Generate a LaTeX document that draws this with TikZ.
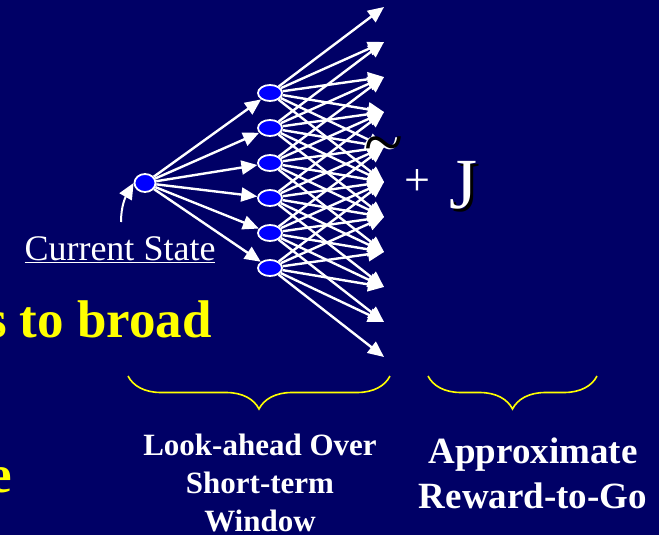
\documentclass[tikz,border=0pt]{standalone}
\usepackage{fontspec}
\setmainfont{Liberation Serif}
\usetikzlibrary{arrows.meta, shapes.geometric, decorations.pathreplacing}
\definecolor{slidebg}{HTML}{000066}
\definecolor{stateblue}{HTML}{0000FF}
\definecolor{slideyellow}{HTML}{FFFF00}
\tikzset{state/.style={ellipse,draw=white,fill=stateblue,line width=1.8pt,minimum width=24pt,minimum height=16pt,inner sep=0pt},edge/.style={-{Triangle[length=16pt,width=14pt]},draw=white,line width=2.4pt},brace/.style={draw=slideyellow,line width=1.6pt,decorate,decoration={brace,mirror,amplitude=33pt}},caption/.style={text=white,align=center,inner sep=0pt},glyph/.style={inner sep=0pt,anchor=base west}}

\begin{document}
\begin{tikzpicture}[x=1pt,y=-1pt]
\useasboundingbox (0,0) rectangle (659,535);
\clip (0,0) rectangle (659,535);
\fill[slidebg] (0,0) rectangle (659,535);
% look-ahead tree
\node[state,minimum width=21pt,minimum height=18pt] (root) at (145,183) {};
\foreach \i in {0,...,5}
  \node[state] (m\i) at (270,{93+35*\i}) {};
\foreach \k in {0,...,10}
  \coordinate (leaf\k) at (384,{7+35*\k});
\foreach \i in {0,...,5}
  \draw[edge] (root) -- (m\i);
\foreach \i in {0,...,5}
  \foreach \d in {0,...,5}
    {\pgfmathtruncatemacro\k{\i+\d}
     \draw[edge] (m\i) -- (leaf\k);}
% current state
\node[text=white,font=\fontsize{36}{40}\selectfont,anchor=base,inner sep=0pt] (cstate) at (120,260) {\underline{Current State}};
\coordinate (csfoot) at (121,222);
\draw[edge,line width=2pt] (csfoot) to[out=90,in=240] (root.west);
% yellow slide text
\node[text=slideyellow,font=\fontsize{53}{60}\selectfont\bfseries,anchor=base east,inner sep=0pt] (broad) at (212,337) {s to broad};
\node[text=slideyellow,font=\fontsize{53}{60}\selectfont\bfseries,anchor=base east,inner sep=0pt] (tail) at (12,492) {e};
% J with tilde
\node[glyph,text=white,font=\fontsize{72}{72}\selectfont] (tildeshadow) at (362,167) {\textasciitilde};
\node[glyph,text=black,font=\fontsize{72}{72}\selectfont] (tilde) at (364,166) {\textasciitilde};
\node[glyph,text=white,font=\fontsize{46}{46}\selectfont] (plus) at (404,195) {+};
\node[glyph,text=black,font=\fontsize{72}{72}\selectfont] (jshadow) at (452,211) {J};
\node[glyph,text=white,font=\fontsize{72}{72}\selectfont] (jval) at (449,208) {J};
% braces and captions
\coordinate (b1w) at (128,376);
\coordinate (b1e) at (390,376);
\coordinate (b2w) at (428,376);
\coordinate (b2e) at (597,376);
\draw[brace] (b1w) -- (b1e);
\draw[brace] (b2w) -- (b2e);
\node[caption,font=\fontsize{31}{38}\selectfont\bfseries,anchor=base] (window) at (260,531) {Look-ahead Over\\Short-term\\Window};
\node[caption,font=\fontsize{37}{45}\selectfont\bfseries,anchor=base] (reward) at (533,508) {Approximate\\Reward-to-Go};
\end{tikzpicture}
\end{document}
